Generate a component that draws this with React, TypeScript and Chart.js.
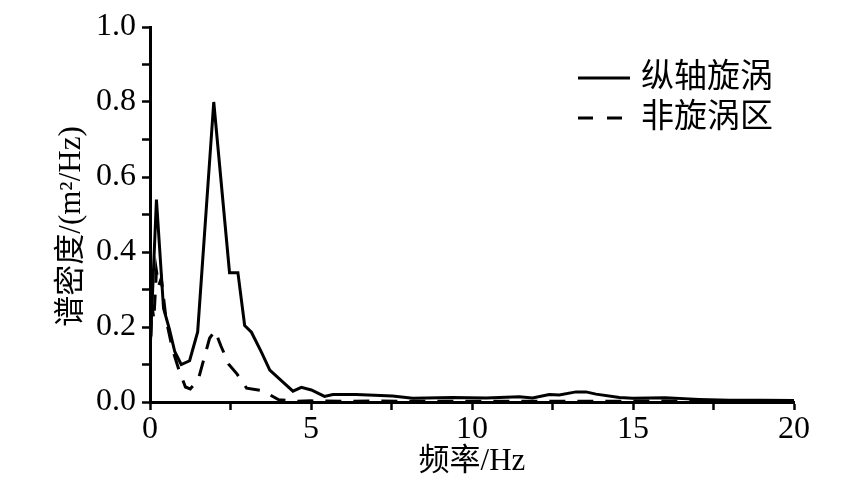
import React, { useEffect, useRef } from "react";
import { Chart, registerables } from "chart.js";

Chart.register(...registerables);

const freqVortex = [0, 0.2, 0.42, 0.6, 0.77, 0.97, 1.23, 1.48, 1.98, 2.47, 2.73, 2.94, 3.15, 3.46, 3.72, 4.13, 4.44, 4.7, 5.01, 5.42, 5.68, 6.4, 7.53, 8.16, 9.4, 10.44, 11.47, 11.88, 12.4, 12.71, 13.23, 13.54, 13.85, 14.58, 14.99, 16.0, 17.05, 18.0, 19.0, 20.0];
const psdVortex = [0.13, 0.54, 0.25, 0.195, 0.134, 0.1, 0.11, 0.187, 0.8, 0.345, 0.345, 0.204, 0.186, 0.133, 0.085, 0.053, 0.029, 0.039, 0.032, 0.015, 0.02, 0.02, 0.016, 0.01, 0.012, 0.011, 0.014, 0.011, 0.02, 0.019, 0.027, 0.027, 0.021, 0.012, 0.01, 0.011, 0.007, 0.005, 0.005, 0.004];

const freqNonVortex = [0, 0.06, 0.12, 0.2, 0.27, 0.35, 0.5, 0.7, 0.9, 1.1, 1.25, 1.5, 1.85, 2.02, 2.2, 2.45, 2.7, 3.0, 3.5, 4.0, 4.5, 5.0, 6.0, 7.0, 8.0, 10.0, 12.0, 14.0, 16.0, 18.0, 20.0];
const psdNonVortex = [0.1, 0.26, 0.22, 0.35, 0.31, 0.33, 0.22, 0.14, 0.085, 0.04, 0.035, 0.06, 0.17, 0.19, 0.15, 0.1, 0.075, 0.037, 0.03, 0.006, 0.002, 0.003, 0.002, 0.003, 0.002, 0.002, 0.002, 0.002, 0.003, 0.002, 0.001];

const seriesNames = ["纵轴旋涡", "非旋涡区"];
const xTickLabels = ["0", "5", "10", "15", "20"];
const yTickLabels = ["0.0", "0.2", "0.4", "0.6", "0.8", "1.0"];
const xTitle = "频率/Hz";
const yTitle = "谱密度/(m²/Hz)";

const SERIF = "'Liberation Serif', 'Noto Sans CJK SC', serif";

const overlayPlugin = {
  id: "overlay",
  afterDraw(chart: any) {
    const ctx = chart.ctx;
    const area = chart.chartArea;
    ctx.save();
    ctx.fillStyle = "#000";
    ctx.font = `31px ${SERIF}`;
    ctx.textAlign = "center";
    ctx.textBaseline = "middle";
    // x axis title
    ctx.fillText(xTitle, (area.left + area.right) / 2, 462);
    // y axis title
    ctx.translate(72, (area.top + area.bottom) / 2 + 12);
    ctx.rotate(-Math.PI / 2);
    ctx.fillText(yTitle, 0, 0);
    ctx.restore();

    // legend
    ctx.save();
    ctx.strokeStyle = "#000";
    ctx.lineWidth = 3;
    const rows = [78, 118];
    rows.forEach((yy, i) => {
      ctx.beginPath();
      ctx.setLineDash(i === 0 ? [] : [15, 14]);
      ctx.moveTo(578, yy);
      ctx.lineTo(630, yy);
      ctx.stroke();
      ctx.setLineDash([]);
      ctx.fillStyle = "#000";
      ctx.font = `33px ${SERIF}`;
      ctx.textAlign = "left";
      ctx.textBaseline = "middle";
      ctx.fillText(seriesNames[i], 641, yy);
    });
    ctx.restore();
  },
};

export default function App() {
  const ref = useRef<HTMLCanvasElement | null>(null);
  useEffect(() => {
    if (!ref.current) return;
    const chart = new Chart(ref.current, {
      type: "line",
      data: {
        datasets: [
          {
            label: seriesNames[0],
            data: freqVortex.map((x, i) => ({ x, y: psdVortex[i] })),
            borderColor: "#000",
            borderWidth: 3,
            pointRadius: 0,
            tension: 0,
            fill: false,
          },
          {
            label: seriesNames[1],
            data: freqNonVortex.map((x, i) => ({ x, y: psdNonVortex[i] })),
            borderColor: "#000",
            borderWidth: 3,
            borderDash: [16, 12],
            pointRadius: 0,
            tension: 0,
            fill: false,
          },
        ],
      },
      options: {
        animation: false,
        responsive: false,
        maintainAspectRatio: false,
        layout: { padding: { left: 0, top: 27, right: 63, bottom: 0 } },
        plugins: { legend: { display: false }, tooltip: { enabled: false } },
        scales: {
          x: {
            type: "linear",
            min: 0,
            max: 20,
            afterFit: (s: any) => {
              s.height = 93;
            },
            border: { display: true, color: "#000", width: 3 },
            grid: {
              drawOnChartArea: false,
              drawTicks: true,
              tickLength: 8,
              tickWidth: 2.5,
              color: "#000",
            },
            ticks: {
              stepSize: 2.5,
              color: "#000",
              padding: 0,
              maxRotation: 0,
              autoSkip: false,
              font: { family: SERIF, size: 32 },
              callback: (v: any) => {
                const n = Number(v);
                if (Math.abs(n % 5) < 1e-6) return xTickLabels[Math.round(n / 5)];
                return "";
              },
            },
          },
          y: {
            type: "linear",
            min: 0,
            max: 1,
            afterFit: (s: any) => {
              s.width = 150;
            },
            border: { display: true, color: "#000", width: 3 },
            grid: {
              drawOnChartArea: false,
              drawTicks: true,
              tickLength: 8,
              tickWidth: 2.5,
              color: "#000",
            },
            ticks: {
              stepSize: 0.1,
              color: "#000",
              padding: 6,
              autoSkip: false,
              font: { family: SERIF, size: 32 },
              callback: (v: any) => {
                const k = Math.round(Number(v) * 10);
                if (k % 2 === 0) return yTickLabels[k / 2];
                return "";
              },
            },
          },
        },
      },
      plugins: [overlayPlugin],
    });
    return () => chart.destroy();
  }, []);
  return (
    <div style={{ position: "absolute", left: 0, top: 0, width: 857, height: 495, background: "#fff" }}>
      <canvas ref={ref} width={857} height={495} />
    </div>
  );
}
